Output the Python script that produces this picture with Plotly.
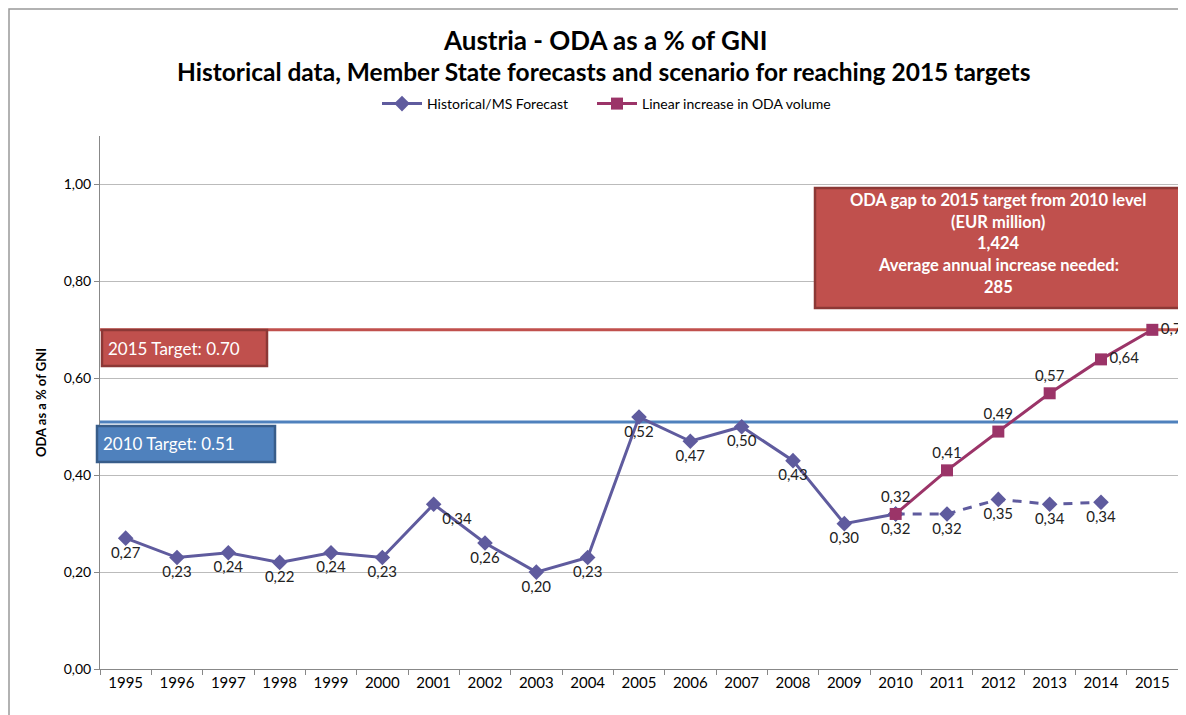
import plotly.graph_objects as go

years = [str(y) for y in range(1995, 2016)]
hist_years = [str(y) for y in range(1995, 2011)]
hist_vals = [0.27, 0.23, 0.24, 0.22, 0.24, 0.23, 0.34, 0.26, 0.20, 0.23,
             0.52, 0.47, 0.50, 0.43, 0.30, 0.32]
hist_labels = ["0,27", "0,23", "0,24", "0,22", "0,24", "0,23", "0,34", "0,26", "0,20", "0,23",
               "0,52", "0,47", "0,50", "0,43", "0,30", "0,32"]
fc_years = ["2010", "2011", "2012", "2013", "2014"]
fc_vals = [0.32, 0.32, 0.35, 0.34, 0.344]
fc_labels = ["", "0,32", "0,35", "0,34", "0,34"]
lin_years = ["2010", "2011", "2012", "2013", "2014", "2015"]
lin_vals = [0.32, 0.41, 0.49, 0.569, 0.639, 0.70]
lin_labels = ["0,32", "0,41", "0,49", "0,57", "0,64", "0,70"]
target_2015 = 0.70
target_2010 = 0.51
gap_lines = ["ODA gap to 2015 target from 2010 level", "(EUR million)", "1,424",
             "Average annual increase needed:", "285"]

PURPLE = "#5F5B9E"
MAGENTA = "#9B3468"
RED = "#C0504D"
RED_D = "#8C3836"
BLUE = "#4F81BD"
BLUE_D = "#385D8A"
FONT = "Lato"

# plot area in page pixels: x 100..1178, y 136..669
def px(x):
    return (x - 100) / 1078

def py(y):
    return (669 - y) / 533

fig = go.Figure()

hist_pos = ["bottom center"] * len(hist_vals)
hist_pos[6] = "bottom right"
fig.add_trace(go.Scatter(
    x=hist_years, y=hist_vals, mode="lines+markers+text", name="Historical/MS Forecast",
    line=dict(color=PURPLE, width=3), marker=dict(symbol="diamond", size=12, color=PURPLE),
    text=hist_labels, textposition=hist_pos, textfont=dict(size=15, color="#222"),
    cliponaxis=False, legend="legend"))
fig.add_trace(go.Scatter(
    x=fc_years, y=fc_vals, mode="lines+markers+text", showlegend=False,
    line=dict(color=PURPLE, width=3, dash="9px,8px"),
    marker=dict(symbol="diamond", size=12, color=PURPLE),
    text=fc_labels, textposition="bottom center", textfont=dict(size=15, color="#222"),
    cliponaxis=False))
lin_pos = ["top center"] * 4 + ["middle right"] * 2
fig.add_trace(go.Scatter(
    x=lin_years, y=lin_vals, mode="lines+markers+text", name="Linear increase in ODA volume",
    line=dict(color=MAGENTA, width=3), marker=dict(symbol="square", size=12, color=MAGENTA),
    text=lin_labels, textposition=lin_pos, textfont=dict(size=15, color="#222"),
    cliponaxis=False, legend="legend2"))

shapes = []
shapes.append(dict(type="line", xref="paper", yref="y", x0=0, x1=1.02, y0=target_2015, y1=target_2015,
                   line=dict(color=RED, width=3), layer="below"))
shapes.append(dict(type="line", xref="paper", yref="y", x0=0, x1=1.02, y0=target_2010, y1=target_2010,
                   line=dict(color=BLUE, width=3), layer="below"))
shapes.append(dict(type="rect", xref="paper", yref="paper", x0=px(102), x1=px(267),
                   y0=py(366), y1=py(330), fillcolor=RED, line=dict(color=RED_D, width=2.5)))
shapes.append(dict(type="rect", xref="paper", yref="paper", x0=px(97), x1=px(275),
                   y0=py(462), y1=py(426), fillcolor=BLUE, line=dict(color=BLUE_D, width=2.5)))
shapes.append(dict(type="rect", xref="paper", yref="paper", x0=px(815), x1=px(1183),
                   y0=py(308), y1=py(188), fillcolor=RED, line=dict(color=RED_D, width=2.5)))
shapes.append(dict(type="rect", xref="paper", yref="paper", x0=px(9), x1=px(1300),
                   y0=py(800), y1=py(9), line=dict(color="#999", width=1.5), layer="below"))

annotations = [
    dict(text="<b>Austria - ODA as a % of GNI</b>", xref="paper", yref="paper",
         x=px(605), y=py(40), xanchor="center", yanchor="middle", showarrow=False,
         font=dict(size=26, color="#000", family=FONT)),
    dict(text="<b>Historical data, Member State forecasts and scenario for reaching 2015 targets</b>",
         xref="paper", yref="paper", x=px(603), y=py(72), xanchor="center", yanchor="middle",
         showarrow=False, font=dict(size=24.5, color="#000", family=FONT)),
    dict(text="2015 Target: 0.70", xref="paper", yref="paper", x=px(106), y=py(348),
         xanchor="left", yanchor="middle", showarrow=False, font=dict(size=17, color="white", family=FONT)),
    dict(text="2010 Target: 0.51", xref="paper", yref="paper", x=px(101), y=py(443),
         xanchor="left", yanchor="middle", showarrow=False, font=dict(size=17, color="white", family=FONT)),
]
for i, line in enumerate(gap_lines):
    annotations.append(dict(text="<b>" + line + "</b>", xref="paper", yref="paper",
                            x=px(998), y=py(200 + 21.7 * i), xanchor="center", yanchor="middle",
                            showarrow=False, font=dict(size=16.5, color="white", family=FONT)))

legend_common = dict(orientation="h", yanchor="middle", y=py(104), xanchor="left",
                     font=dict(size=14, family=FONT), bgcolor="rgba(0,0,0,0)",
                     itemwidth=40, borderwidth=0)

fig.update_layout(
    width=1186, height=715,
    margin=dict(l=92, r=16, t=128, b=54),
    paper_bgcolor="white", plot_bgcolor="white",
    separators=",.",
    font=dict(family=FONT, size=14, color="#000"),
    shapes=shapes, annotations=annotations,
    legend=dict(x=px(377), **legend_common),
    legend2=dict(x=px(592), **legend_common),
    xaxis=dict(type="category", categoryorder="array", categoryarray=years, tickson="boundaries",
               ticks="outside", ticklen=5, tickcolor="#888", showline=True, linecolor="#888",
               linewidth=1, showgrid=False, tickfont=dict(size=15), range=[-0.5, 20.5]),
    yaxis=dict(range=[0, 1.1], tickvals=[0, 0.2, 0.4, 0.6, 0.8, 1.0], tickformat=".2f",
               ticks="outside", ticklen=5, tickcolor="#888", showline=True, linecolor="#888",
               linewidth=1, showgrid=True, gridcolor="#BBBBBB", gridwidth=1, zeroline=False,
               tickfont=dict(size=14),
               title=dict(text="<b>ODA as a % of GNI</b>", font=dict(size=13), standoff=14)),
)

fig.write_html("out.html")
